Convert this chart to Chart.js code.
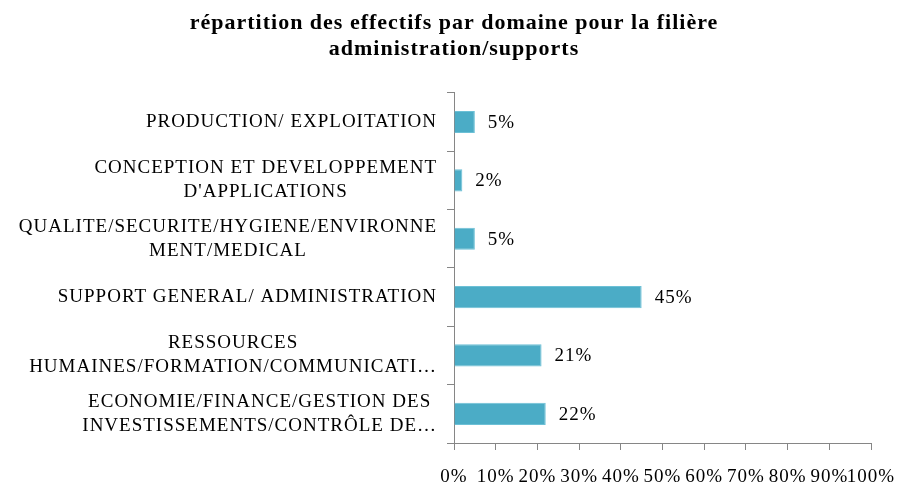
<!DOCTYPE html>
<html>
<head>
<meta charset="utf-8">
<script src="https://cdn.jsdelivr.net/npm/chart.js@4/dist/chart.umd.min.js"></script>
<style>
  body { margin: 0; background: #fff; }
  #wrap { width: 897px; height: 486px; }
</style>
</head>
<body>
<div id="wrap"><canvas id="chart"></canvas></div>
<script>
"use strict";

// données
const categories = [
  ["PRODUCTION/ EXPLOITATION"],
  ["CONCEPTION ET DEVELOPPEMENT", "D'APPLICATIONS"],
  ["QUALITE/SECURITE/HYGIENE/ENVIRONNE", "MENT/MEDICAL"],
  ["SUPPORT GENERAL/ ADMINISTRATION"],
  ["RESSOURCES", "HUMAINES/FORMATION/COMMUNICATI…"],
  ["ECONOMIE/FINANCE/GESTION DES", "INVESTISSEMENTS/CONTRÔLE DE…"]
];
const values = [5, 2, 5, 45, 21, 22];
const xTicks = [0, 10, 20, 30, 40, 50, 60, 70, 80, 90, 100];

const titleLines = ["répartition des effectifs par domaine pour la filière", "administration/supports"];

const serif = "'Liberation Serif', 'DejaVu Serif', serif";
const gray = "#868686";

// un peu d'espacement des lettres (police plus large dans l'original)
const spacingPlugin = {
  id: "spacing",
  beforeLayout(chart) { chart.ctx.letterSpacing = "1px"; },
  beforeDraw(chart) { chart.ctx.letterSpacing = "1px"; }
};

// étiquettes de l'axe vertical : bloc aligné à droite, lignes centrées
const catLabelPlugin = {
  id: "catLabels",
  afterDraw(chart) {
    const ctx = chart.ctx;
    const y = chart.scales.y;
    ctx.save();
    ctx.font = "19px " + serif;
    ctx.fillStyle = "#000";
    ctx.textBaseline = "middle";
    ctx.textAlign = "center";
    const right = y.right - 17;
    const lh = 24;
    categories.forEach(function (lines, i) {
      const cy = y.getPixelForValue(i);
      let w = 0;
      lines.forEach(function (l) { w = Math.max(w, ctx.measureText(l).width); });
      const cx = right - w / 2;
      const y0 = cy - (lines.length - 1) * lh / 2;
      lines.forEach(function (l, k) {
        ctx.fillText(l, cx, y0 + k * lh);
      });
    });
    ctx.restore();
  }
};

// valeurs au bout des barres
const dataLabelPlugin = {
  id: "dataLabels",
  afterDatasetsDraw(chart) {
    const ctx = chart.ctx;
    const meta = chart.getDatasetMeta(0);
    ctx.save();
    ctx.font = "19px " + serif;
    ctx.fillStyle = "#000";
    ctx.textAlign = "left";
    ctx.textBaseline = "middle";
    meta.data.forEach(function (bar, i) {
      ctx.fillText(values[i] + "%", bar.x + 13, bar.y + 1);
    });
    ctx.restore();
  }
};

new Chart(document.getElementById("chart"), {
  type: "bar",
  data: {
    labels: categories.map(function (c) { return c.join(" "); }),
    datasets: [{
      data: values,
      backgroundColor: "#4BACC6",
      borderColor: "#6cc0d6",
      borderWidth: 1,
      categoryPercentage: 1,
      barPercentage: 0.38
    }]
  },
  options: {
    indexAxis: "y",
    responsive: true,
    maintainAspectRatio: false,
    animation: false,
    layout: { padding: { left: 37, right: 26, top: 0, bottom: 0 } },
    plugins: {
      legend: { display: false },
      tooltip: { enabled: false },
      title: {
        display: true,
        text: titleLines,
        color: "#000",
        font: { family: serif, size: 22, weight: "bold", lineHeight: 1.2 },
        padding: { top: 10, bottom: 30 }
      }
    },
    scales: {
      x: {
        min: 0,
        max: 100,
        afterBuildTicks: function (scale) {
          scale.ticks = xTicks.map(function (v) { return { value: v }; });
        },
        afterFit: function (scale) {
          scale.height = 43;
          scale.paddingRight = 0;
          scale.paddingLeft = 0;
        },
        border: { display: true, color: gray, width: 1 },
        grid: { drawOnChartArea: false, drawTicks: true, tickLength: 7, color: gray },
        ticks: {
          color: "#000",
          font: { family: serif, size: 19 },
          padding: 16,
          maxRotation: 0,
          autoSkip: false,
          callback: function (v) { return v + "%"; }
        }
      },
      y: {
        afterFit: function (scale) { scale.width = 417; },
        border: { display: true, color: gray, width: 1 },
        grid: { offset: true, drawOnChartArea: false, drawTicks: true, tickLength: 7, color: gray },
        ticks: { display: false }
      }
    }
  },
  plugins: [spacingPlugin, catLabelPlugin, dataLabelPlugin]
});
</script>
</body>
</html>
